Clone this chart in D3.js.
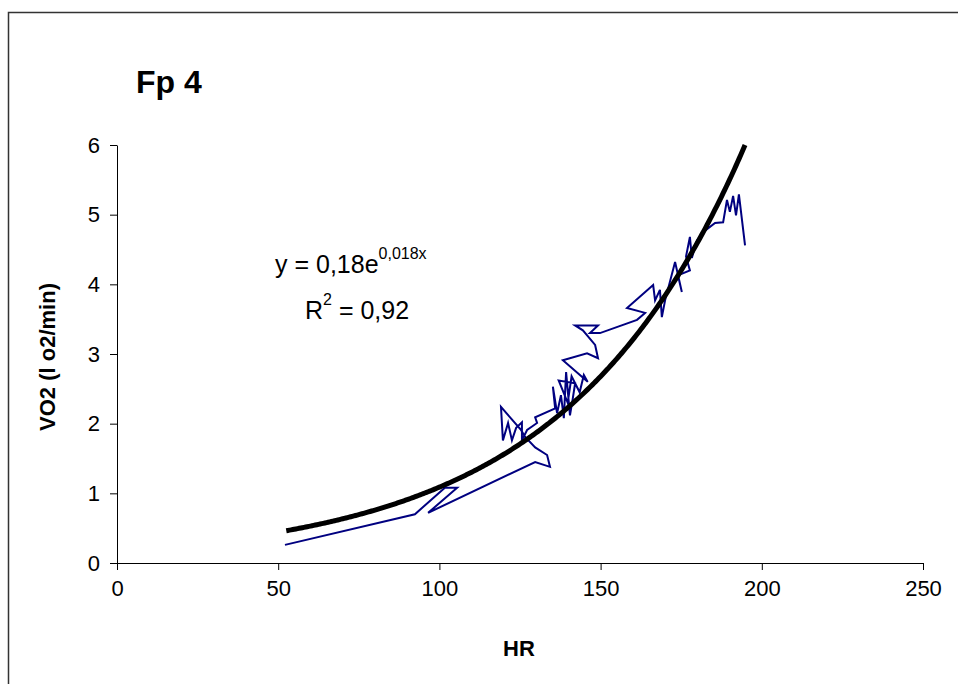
<!DOCTYPE html>
<html>
<head>
<meta charset="utf-8">
<style>
  body { margin: 0; background: #fff; }
  svg { display: block; font-family: Arial, 'Liberation Sans', sans-serif; }
</style>
</head>
<body>
<svg width="958" height="684"></svg>
<script src="https://d3js.org/d3.v7.min.js"></script>
<script>
// heart rate (x) and VO2 (y), in recording order
const hr = [52.1, 92.4, 101.7, 105.5, 96.5, 129.7, 134.3, 133.4, 129.7, 126.6,
  125.3, 119.1, 119.7, 121.3, 122.5, 123.8, 125.6, 125.6, 127.2, 130.3,
  129.7, 135.9, 135.2, 136.5, 137.7, 138.6, 139.3, 140.5, 141.4, 142.1,
  137.0, 139.8, 141.0, 143.5, 144.8, 146.0,
  138.3, 145.8, 149.2, 148.3, 144.5, 142.1, 149.2, 146.7, 149.8, 161.3,
  163.8, 158.2, 166.3, 166.9, 168.4, 169.0, 170.0, 173.1, 175.2, 174.0,
  177.7, 176.5, 177.7, 178.3, 179.9, 181.8, 185.5, 188.0, 189.2, 190.1,
  191.1, 192.0, 192.9, 194.8];
const vo2 = [0.26, 0.70, 1.08, 1.08, 0.72, 1.45, 1.38, 1.55, 1.66, 1.81,
  1.91, 2.24, 1.76, 2.01, 1.76, 1.94, 2.02, 1.76, 1.91, 2.01,
  2.09, 2.22, 2.53, 2.15, 2.41, 2.08, 2.74, 2.12, 2.37, 2.58,
  2.62, 2.30, 2.68, 2.45, 2.70, 2.60,
  2.91, 3.01, 2.94, 3.13, 3.34, 3.41, 3.41, 3.30, 3.30, 3.49,
  3.59, 3.66, 3.99, 3.77, 3.92, 3.53, 3.77, 4.32, 3.89, 4.13,
  4.20, 4.40, 4.68, 4.38, 4.63, 4.75, 4.88, 4.89, 5.21, 5.04,
  5.27, 4.99, 5.29, 4.56];

// exponential trend y = a * e^(b x)
const trendA = 0.18, trendB = 0.018;
const trendFrom = 52.5, trendTo = 194.8;

const xTicks = [0, 50, 100, 150, 200, 250];
const yTicks = [0, 1, 2, 3, 4, 5, 6];

const svg = d3.select("svg");

// outer chart frame (right/bottom edges run off the page)
svg.append("rect")
  .attr("x", 8.5).attr("y", 12.5)
  .attr("width", 980).attr("height", 700)
  .style("fill", "none")
  .style("stroke", "#333")
  .style("stroke-width", 1.5);

const x = d3.scaleLinear().domain([0, 250]).range([117, 923]);
const y = d3.scaleLinear().domain([0, 6]).range([563, 145]);

const xAxis = svg.append("g")
  .attr("transform", "translate(0,563)")
  .call(d3.axisBottom(x).tickValues(xTicks).tickFormat(d3.format("d"))
    .tickSize(7).tickPadding(10).tickSizeOuter(0));
const yAxis = svg.append("g")
  .attr("transform", "translate(117,0)")
  .call(d3.axisLeft(y).tickValues(yTicks).tickFormat(d3.format("d"))
    .tickSize(7).tickPadding(10).tickSizeOuter(0));

[xAxis, yAxis].forEach(g => {
  g.select(".domain").style("stroke", "#000").style("stroke-width", 1);
  g.selectAll(".tick line").style("stroke", "#000");
  g.selectAll(".tick text")
    .style("font-family", "Arial, 'Liberation Sans', sans-serif")
    .style("font-size", "22px")
    .style("fill", "#000");
});

// data line
const pts = hr.map((h, i) => [h, vo2[i]]);
const line = d3.line().x(d => x(d[0])).y(d => y(d[1]));
svg.append("path")
  .datum(pts)
  .attr("d", line)
  .style("fill", "none")
  .style("stroke", "#000080")
  .style("stroke-width", 2)
  .style("stroke-linejoin", "miter");

// trendline
const trend = d3.range(trendFrom, trendTo, 0.5).concat([trendTo])
  .map(h => [h, trendA * Math.exp(trendB * h)]);
svg.append("path")
  .datum(trend)
  .attr("d", line)
  .style("fill", "none")
  .style("stroke", "#000")
  .style("stroke-width", 5);

// title
svg.append("text")
  .text("Fp 4")
  .attr("x", 136).attr("y", 93)
  .style("font-size", "32px")
  .style("font-weight", "bold");

// equation
const eq = svg.append("text")
  .attr("x", 275).attr("y", 273)
  .style("font-size", "25px");
eq.append("tspan").text("y = 0,18e");
eq.append("tspan").text("0,018x").attr("dy", -14).style("font-size", "16px");

const r2 = svg.append("text")
  .attr("x", 305).attr("y", 319)
  .style("font-size", "25px");
r2.append("tspan").text("R");
r2.append("tspan").text("2").attr("dy", -14).style("font-size", "16px");
r2.append("tspan").text(" = 0,92").attr("dy", 14);

// axis titles
svg.append("text")
  .text("HR")
  .attr("x", 519).attr("y", 656)
  .attr("text-anchor", "middle")
  .style("font-size", "22px")
  .style("font-weight", "bold");

svg.append("text")
  .text("VO2 (l o2/min)")
  .attr("transform", "translate(55,357) rotate(-90)")
  .attr("text-anchor", "middle")
  .style("font-size", "22px")
  .style("font-weight", "bold");
</script>
</body>
</html>
